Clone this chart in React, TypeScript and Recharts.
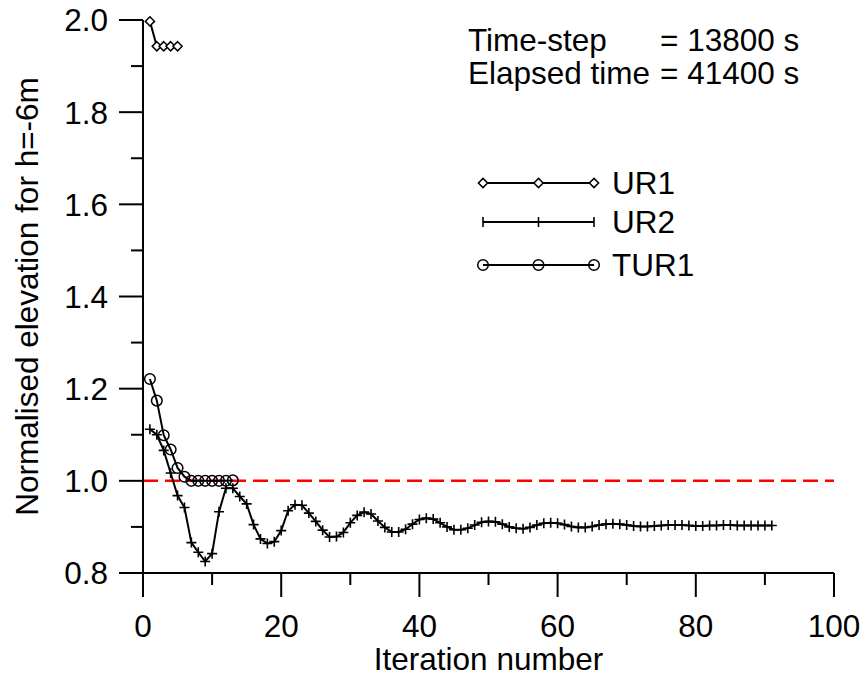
import React from 'react';
import { LineChart, Line, XAxis, YAxis, ReferenceLine, Legend } from 'recharts';

// ---- data ----
const seriesNames = ['UR1', 'UR2', 'TUR1'];

const ur1Iter = [1, 2, 3, 4, 5];
const ur1Values = [1.997, 1.943, 1.943, 1.943, 1.943];

const tur1Iter = [1, 2, 3, 4, 5, 6, 7, 8, 9, 10, 11, 12, 13];
const tur1Values = [1.221, 1.174, 1.099, 1.068, 1.028, 1.009, 1.0, 1.0, 1.0, 1.0, 1.0, 1.0, 1.001];

const ur2Iter = [
  1, 2, 3, 4, 5, 6, 7, 8, 9, 10, 11, 12, 13, 14, 15, 16, 17, 18, 19, 20,
  21, 22, 23, 24, 25, 26, 27, 28, 29, 30, 31, 32, 33, 34, 35, 36, 37, 38, 39, 40,
  41, 42, 43, 44, 45, 46, 47, 48, 49, 50, 51, 52, 53, 54, 55, 56, 57, 58, 59, 60,
  61, 62, 63, 64, 65, 66, 67, 68, 69, 70, 71, 72, 73, 74, 75, 76, 77, 78, 79, 80,
  81, 82, 83, 84, 85, 86, 87, 88, 89, 90, 91,
];
const ur2Values = [
  1.112, 1.100, 1.066, 1.017, 0.968, 0.942, 0.866, 0.845, 0.825, 0.842,
  0.933, 0.984, 0.984, 0.966, 0.950, 0.905, 0.874, 0.864, 0.868, 0.892,
  0.935, 0.948, 0.947, 0.930, 0.912, 0.893, 0.878, 0.879, 0.888, 0.909,
  0.925, 0.932, 0.928, 0.913, 0.899, 0.889, 0.889, 0.895, 0.906, 0.916,
  0.919, 0.917, 0.909, 0.900, 0.894, 0.894, 0.897, 0.904, 0.910, 0.912,
  0.911, 0.906, 0.900, 0.897, 0.896, 0.899, 0.904, 0.908, 0.909, 0.908,
  0.905, 0.901, 0.899, 0.899, 0.901, 0.904, 0.906, 0.907, 0.906, 0.904,
  0.902, 0.901, 0.901, 0.902, 0.903, 0.904, 0.904, 0.904, 0.903, 0.902,
  0.902, 0.903, 0.903, 0.904, 0.904, 0.903, 0.903, 0.903, 0.903, 0.903,
  0.903,
];

const xTicks = [0, 10, 20, 30, 40, 50, 60, 70, 80, 90, 100];
const yTicks = [0.8, 0.9, 1.0, 1.1, 1.2, 1.3, 1.4, 1.5, 1.6, 1.7, 1.8, 1.9, 2.0];
const referenceLevel = 1.0;

const timeStepLabel = 'Time-step';
const timeStepValue = '= 13800 s';
const elapsedLabel = 'Elapsed time';
const elapsedValue = '= 41400 s';
const xTitle = 'Iteration number';
const yTitle = 'Normalised elevation for h=-6m';

const toPoints = (xs: number[], ys: number[]) => xs.map((x, i) => ({ x, y: ys[i] }));
const ur1Data = toPoints(ur1Iter, ur1Values);
const ur2Data = toPoints(ur2Iter, ur2Values);
const tur1Data = toPoints(tur1Iter, tur1Values);

// ---- styles ----
const FONT = '"Liberation Sans", Arial, Helvetica, sans-serif';
const FS = 31.5;

type Marker = 'diamond' | 'plus' | 'circle';
const markerFor: Record<string, Marker> = { UR1: 'diamond', UR2: 'plus', TUR1: 'circle' };

const drawMarker = (kind: Marker, cx: number, cy: number, key?: any) => {
  if (kind === 'diamond') {
    const s = 4.6;
    return (
      <path key={key} d={`M${cx},${cy - s}L${cx + s},${cy}L${cx},${cy + s}L${cx - s},${cy}Z`}
        fill="#fff" stroke="#000" strokeWidth={1.5} />
    );
  }
  if (kind === 'plus') {
    const s = 5;
    return (
      <path key={key} d={`M${cx - s},${cy}H${cx + s}M${cx},${cy - s}V${cy + s}`}
        fill="none" stroke="#000" strokeWidth={1.6} />
    );
  }
  return <circle key={key} cx={cx} cy={cy} r={5.3} fill="none" stroke="#000" strokeWidth={1.5} />;
};

const makeDot = (kind: Marker) => (props: any) => {
  const { cx, cy, index } = props;
  if (cx == null || cy == null) return <g key={`e-${index}`} />;
  return drawMarker(kind, cx, cy, `${kind}-${index}`);
};

const XTick = (props: any) => {
  const { x, y, payload } = props;
  const v = payload.value;
  const major = Math.round(v) % 20 === 0;
  return (
    <g>
      <line x1={x} x2={x} y1={y} y2={y + (major ? 24 : 12)} stroke="#000" strokeWidth={2} />
      {major && (
        <text x={x} y={y + 64} textAnchor="middle" fontFamily={FONT} fontSize={FS} fill="#000">
          {v}
        </text>
      )}
    </g>
  );
};

const YTick = (props: any) => {
  const { x, y, payload } = props;
  const v = payload.value;
  const major = Math.round(v * 10) % 2 === 0;
  return (
    <g>
      <line x1={x - (major ? 24 : 12)} x2={x} y1={y} y2={y} stroke="#000" strokeWidth={2} />
      {major && (
        <text x={x - 35} y={y} dy="0.36em" textAnchor="end" fontFamily={FONT} fontSize={FS} fill="#000">
          {v.toFixed(1)}
        </text>
      )}
    </g>
  );
};

const XTitle = (props: any) => {
  const vb = props.viewBox || { x: 143, y: 573, width: 691, height: 106 };
  return (
    <text x={vb.x + vb.width / 2} y={vb.y + 97} textAnchor="middle" fontFamily={FONT} fontSize={FS} fill="#000">
      {xTitle}
    </text>
  );
};

const YTitle = (props: any) => {
  const vb = props.viewBox || { x: 0, y: 20, width: 143, height: 553 };
  const cy = vb.y + vb.height / 2;
  return (
    <text transform={`translate(${vb.x + 38}, ${cy}) rotate(-90)`} textAnchor="middle"
      fontFamily={FONT} fontSize={FS} fill="#000">
      {yTitle}
    </text>
  );
};

const LegendContent = (props: any) => {
  const payloadNames: string[] = (props.payload || []).map((p: any) => String(p.value));
  const names = seriesNames.filter((n) => payloadNames.length === 0 || payloadNames.includes(n));
  const rowY = [23, 62, 105];
  return (
    <svg width={250} height={130} style={{ overflow: 'visible' }}>
      {names.map((name, i) => {
        const kind = markerFor[name] || 'circle';
        const y = rowY[i] ?? 23 + i * 41;
        return (
          <g key={name}>
            <line x1={13} x2={124} y1={y} y2={y} stroke="#000" strokeWidth={2} />
            {kind === 'plus' ? (
              <g>
                <line x1={13} x2={13} y1={y - 5} y2={y + 5} stroke="#000" strokeWidth={1.6} />
                <line x1={68.5} x2={68.5} y1={y - 5} y2={y + 5} stroke="#000" strokeWidth={1.6} />
                <line x1={124} x2={124} y1={y - 5} y2={y + 5} stroke="#000" strokeWidth={1.6} />
              </g>
            ) : (
              <g>
                {drawMarker(kind, 13, y, 'a')}
                {drawMarker(kind, 68.5, y, 'b')}
                {drawMarker(kind, 124, y, 'c')}
              </g>
            )}
            <text x={142} y={y + 11} fontFamily={FONT} fontSize={FS} fill="#000">{name}</text>
          </g>
        );
      })}
    </svg>
  );
};

export default function App() {
  return (
    <div style={{ position: 'absolute', left: 0, top: 0, width: 866, height: 679, background: '#fff' }}>
      <LineChart width={866} height={679} margin={{ top: 20, right: 32, bottom: 0, left: 0 }}>
        <XAxis
          type="number"
          dataKey="x"
          domain={[0, 100]}
          ticks={xTicks}
          interval={0}
          height={106}
          tickSize={0}
          tickMargin={0}
          tickLine={false}
          tick={<XTick />}
          axisLine={{ stroke: '#000', strokeWidth: 2 }}
          label={<XTitle />}
        />
        <YAxis
          type="number"
          domain={[0.8, 2.0]}
          ticks={yTicks}
          interval={0}
          width={143}
          tickSize={0}
          tickMargin={0}
          tickLine={false}
          tick={<YTick />}
          axisLine={{ stroke: '#000', strokeWidth: 2 }}
          label={<YTitle />}
        />
        <XAxis
          xAxisId="top"
          orientation="top"
          type="number"
          domain={[0, 100]}
          height={0}
          tick={false}
          tickLine={false}
          axisLine={{ stroke: '#000', strokeWidth: 2 }}
        />
        <YAxis
          yAxisId="right"
          orientation="right"
          type="number"
          domain={[0.8, 2.0]}
          width={0}
          tick={false}
          tickLine={false}
          axisLine={{ stroke: '#000', strokeWidth: 2 }}
        />
        <ReferenceLine y={referenceLevel} stroke="#ff0000" strokeWidth={2.5} strokeDasharray="15 7" />
        <Line
          data={ur1Data}
          dataKey="y"
          name="UR1"
          type="linear"
          stroke="#000"
          strokeWidth={2}
          dot={makeDot('diamond')}
          activeDot={false}
          isAnimationActive={false}
        />
        <Line
          data={ur2Data}
          dataKey="y"
          name="UR2"
          type="linear"
          stroke="#000"
          strokeWidth={2}
          dot={makeDot('plus')}
          activeDot={false}
          isAnimationActive={false}
        />
        <Line
          data={tur1Data}
          dataKey="y"
          name="TUR1"
          type="linear"
          stroke="#000"
          strokeWidth={2}
          dot={makeDot('circle')}
          activeDot={false}
          isAnimationActive={false}
        />
        <Legend
          layout="vertical"
          align="center"
          verticalAlign="middle"
          content={<LegendContent />}
          wrapperStyle={{ left: 470, top: 160, width: 250, height: 130 }}
        />
      </LineChart>
      <svg width={866} height={679} style={{ position: 'absolute', left: 0, top: 0, pointerEvents: 'none' }}>
        <text x={468} y={51} fontFamily={FONT} fontSize={FS} fill="#000">{timeStepLabel}</text>
        <text x={660} y={51} fontFamily={FONT} fontSize={FS} fill="#000">{timeStepValue}</text>
        <text x={468} y={84} fontFamily={FONT} fontSize={FS} fill="#000">{elapsedLabel}</text>
        <text x={660} y={84} fontFamily={FONT} fontSize={FS} fill="#000">{elapsedValue}</text>
      </svg>
    </div>
  );
}
